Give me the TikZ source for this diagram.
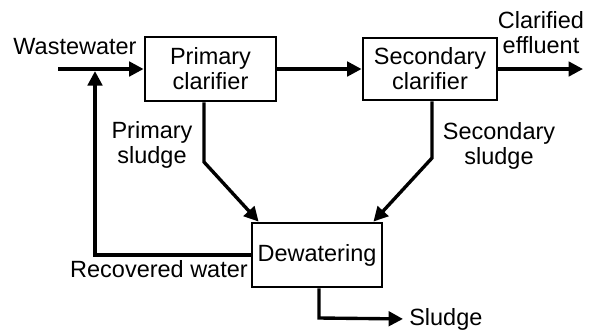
\documentclass[tikz,border=0pt]{standalone}
\usepackage{fontspec}
\setmainfont{Liberation Sans}
\usetikzlibrary{arrows.meta, positioning}

\tikzset{
  unit/.style={draw, line width=2pt, align=center, inner sep=2pt},
  flow/.style={line width=2.4pt, -{Triangle[length=0.36cm, width=0.36cm]}},
  lbl/.style={align=center, inner sep=0pt},
}

\begin{document}
\begin{tikzpicture}[x=0.025cm, y=-0.025cm, font=\fontsize{16.7}{17.8}\selectfont]
  \useasboundingbox (0,0) rectangle (591,332);

  % process units
  \node[unit, minimum width=3.275cm, minimum height=1.6cm] (prim) at (210.5,69) {Primary\\clarifier};
  \node[unit, minimum width=3.35cm, minimum height=1.55cm] (sec) at (430,69) {Secondary\\clarifier};
  \node[unit, minimum width=3.25cm, minimum height=1.6cm] (dew) at (317,255) {Dewatering};

  % labels
  \node[lbl] (wlbl) at (75,47) {Wastewater};
  \node[lbl] (elbl) at (541,33) {Clarified\\effluent};
  \node[lbl] (plbl) at (152,145) {Primary\\sludge};
  \node[lbl] (slbl) at (499,146) {Secondary\\sludge};
  \node[lbl, anchor=base east] (rlbl) at (248,277) {Recovered water};
  \node[lbl, anchor=west] (sludge) at (409,319) {Sludge};

  % bend points
  \coordinate (win) at (58,69);
  \coordinate (eff) at (583,69);
  \coordinate (fb) at (95,255);
  \coordinate (pbend) at (204,162);
  \coordinate (sbend) at (432,158);
  \coordinate (sl) at (319,318);

  % main line
  \draw[flow] (win) -- (prim.west);
  \draw[flow] (prim.east) -- (sec.west);
  \draw[flow] (sec.east) -- (eff);

  % sludge lines
  \draw[flow] (prim.south -| pbend) -- (pbend) -- ([xshift=0.2cm]dew.north west);
  \draw[flow] (sec.south -| sbend) -- (sbend) -- ([xshift=-0.25cm]dew.north east);
  \draw[flow, shorten >=0.15cm] (dew.south -| sl) -- (sl) -- (sludge.west);

  % recycle
  \draw[flow, shorten >=1.5pt] (dew.west) -- (fb) -- (fb |- prim.west);
\end{tikzpicture}
\end{document}
